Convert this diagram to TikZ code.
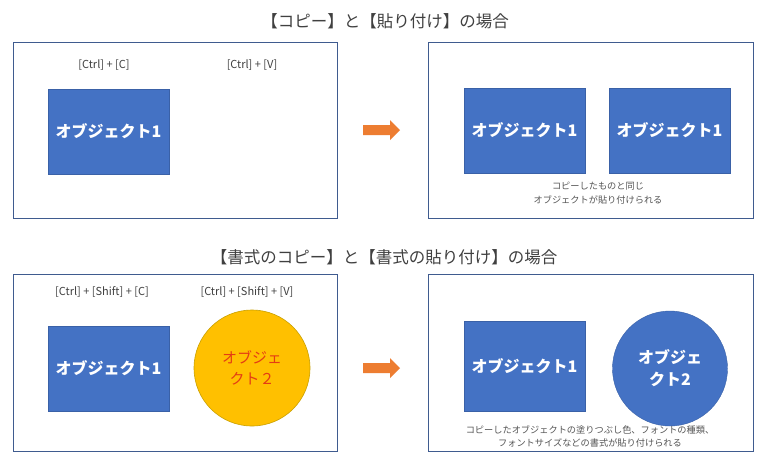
\documentclass[tikz,border=0pt]{standalone}
\usepackage{fontspec}
\newfontfamily\jp{Noto Sans CJK JP}
\definecolor{objblue}{HTML}{4472C4}
\definecolor{framec}{HTML}{3F5B8F}
\definecolor{arroworange}{HTML}{ED7D31}
\definecolor{objyellow}{HTML}{FFC000}
\definecolor{yellowedge}{HTML}{C9A000}
\definecolor{redtext}{RGB}{228,60,20}
\definecolor{labelgray}{HTML}{404040}
\definecolor{capgray}{HTML}{555555}
\begin{document}
\begin{tikzpicture}[x=1pt,y=-1pt,
  frame/.style={draw=framec,line width=1pt},
  titletext/.style={text=labelgray,font=\jp\fontsize{16.5}{18}\selectfont,inner sep=0pt},
  keylabel/.style={text=labelgray,font=\jp\fontsize{11}{13}\selectfont,inner sep=0pt},
  caption/.style={text=capgray,font=\jp\fontsize{9.2}{14}\selectfont,align=center,inner sep=0pt},
  objbox/.style={fill=objblue,draw=objblue!85!black,line width=0.4pt,text=white,
     font=\jp\bfseries\fontsize{16}{22}\selectfont,inner sep=0pt},
  ybubble/.style={circle,fill=objyellow,draw=yellowedge,line width=0.6pt,text=redtext,
     font=\jp\fontsize{15}{21}\selectfont,align=center,inner sep=0pt,minimum size=116pt},
  bbubble/.style={circle,fill=objblue,draw=objblue!85!black,line width=0.4pt,text=white,
     font=\jp\bfseries\fontsize{16}{22}\selectfont,align=center,inner sep=0pt,minimum size=115pt},
  blockarrow/.style={fill=arroworange}
]
\useasboundingbox[fill=white] (0,0) rectangle (770,475);

% titles
\node[titletext] (title1) at (385,21) {【コピー】と【貼り付け】の場合};
\node[titletext] (title2) at (384,257) {【書式のコピー】と【書式の貼り付け】の場合};

% frames
\draw[frame] (13,42) rectangle (337,218);
\draw[frame] (428,42) rectangle (753,218);
\draw[frame] (13,274) rectangle (337,451);
\draw[frame] (428,274) rectangle (753,451);

% top-left panel
\node[keylabel] (kc) at (104,65) {[Ctrl] +\ [C]};
\node[keylabel] (kv) at (252,65) {[Ctrl] +\ [V]};
\node[objbox,minimum width=121pt,minimum height=85pt] (o1a) at (108.5,131.5) {オブジェクト1};

% arrows
\fill[blockarrow] (363,125) -- (390,125) -- (390,120) -- (400,130) -- (390,140) -- (390,135) -- (363,135) -- cycle;
\fill[blockarrow] (363,363) -- (390,363) -- (390,358) -- (400,368) -- (390,378) -- (390,373) -- (363,373) -- cycle;

% top-right panel
\node[objbox,minimum width=121pt,minimum height=85pt] (o1b) at (524.5,130.5) {オブジェクト1};
\node[objbox,minimum width=121pt,minimum height=85pt] (o1c) at (669.5,130.5) {オブジェクト1};
\node[caption] (cap1) at (598,193) {コピーしたものと同じ\\オブジェクトが貼り付けられる};

% bottom-left panel
\node[keylabel] (ksc) at (102,292) {[Ctrl] + [Shift] + [C]};
\node[keylabel] (ksv) at (247,292) {[Ctrl] + [Shift] + [V]};
\node[objbox,minimum width=121pt,minimum height=85pt] (o1d) at (108.5,368.5) {オブジェクト1};
\node[ybubble] (o2a) at (252,368) {オブジェ\\クト２};

% bottom-right panel
\node[objbox,minimum width=121pt,minimum height=90pt] (o1e) at (524.5,366) {オブジェクト1};
\node[bbubble] (o2b) at (670,368.5) {オブジェ\\クト2};
\node[caption,font=\jp\fontsize{9.2}{13.5}\selectfont] (cap2) at (590,436.5) {コピーしたオブジェクトの塗りつぶし色、フォントの種類、\\フォントサイズなどの書式が貼り付けられる};
\end{tikzpicture}
\end{document}
